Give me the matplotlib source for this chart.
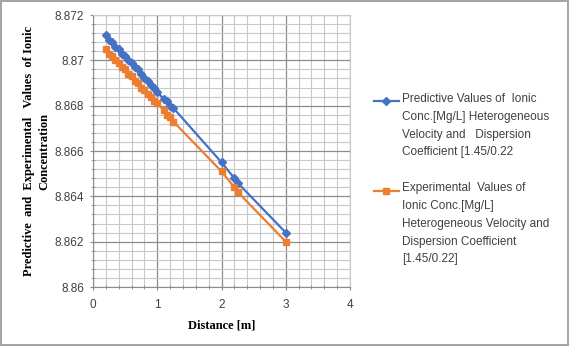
import numpy as np
import matplotlib as mpl
import matplotlib.pyplot as plt
from matplotlib.ticker import MultipleLocator, FuncFormatter
from matplotlib.legend_handler import HandlerLine2D

## Data
dist_pred = [0.2, 0.25, 0.3, 0.35, 0.4, 0.45, 0.5, 0.55, 0.6, 0.65, 0.7, 0.75,
             0.8, 0.85, 0.9, 0.95, 1.0, 1.1, 1.15, 1.2, 1.25, 2.0, 2.2, 2.25, 3.0]
conc_pred = [8.8711, 8.8709, 8.8708, 8.8706, 8.8705, 8.8703, 8.8702, 8.8700,
             8.8699, 8.8697, 8.8696, 8.8694, 8.8692, 8.8691, 8.8689, 8.8688,
             8.8686, 8.8683, 8.8682, 8.8680, 8.8679, 8.8655, 8.8648, 8.8646,
             8.8624]

dist_exp = [0.2, 0.25, 0.3, 0.35, 0.4, 0.45, 0.5, 0.55, 0.6, 0.65, 0.7, 0.75,
            0.8, 0.85, 0.9, 0.95, 1.0, 1.1, 1.15, 1.2, 1.25, 2.0, 2.2, 2.25, 3.0]
conc_exp = [8.8705, 8.8703, 8.8702, 8.8700, 8.8699, 8.8697, 8.8696, 8.8694,
            8.8693, 8.8691, 8.8690, 8.8688, 8.8687, 8.8685, 8.8684, 8.8682,
            8.8681, 8.8678, 8.8676, 8.8675, 8.8673, 8.8651, 8.8644, 8.8642,
            8.8620]

lab_pred = "Predictive Values of  Ionic\nConc.[Mg/L] Heterogeneous\nVelocity and   Dispersion\nCoefficient [1.45/0.22"
lab_exp = "Experimental  Values of\nIonic Conc.[Mg/L]\nHeterogeneous Velocity and\nDispersion Coefficient\n[1.45/0.22]"

blue = "#4472C4"
orange = "#ED7D31"


class TopHandler(HandlerLine2D):
    ## moves the legend line up to the first text line
    def __init__(self, shift, **kw):
        super().__init__(**kw)
        self.shift = shift

    def create_artists(self, legend, orig_handle, xdescent, ydescent,
                       width, height, fontsize, trans):
        arts = super().create_artists(legend, orig_handle, xdescent, ydescent,
                                      width, height, fontsize, trans)
        for a in arts:
            a.set_ydata(np.asarray(a.get_ydata()) + self.shift)
        return arts


W, H = 569, 346
fig = plt.figure(figsize=(W/100, H/100), dpi=100)
fig.patch.set_edgecolor("#A6A6A6")
fig.patch.set_linewidth(1.5)

x0, x1, y0, y1 = 93, 350, 15, 287
ax = fig.add_axes([x0/W, 1 - y1/H, (x1-x0)/W, (y1-y0)/H])

l1, = ax.plot(dist_pred, conc_pred, color=blue, lw=1.6, marker="D", ms=3.8,
              label=lab_pred, zorder=3)
l2, = ax.plot(dist_exp, conc_exp, color=orange, lw=1.6, marker="s", ms=4.8,
              label=lab_exp, zorder=3)

ax.set_xlim(0, 4)
ax.set_ylim(8.86, 8.872)
ax.xaxis.set_major_locator(MultipleLocator(1))
ax.xaxis.set_minor_locator(MultipleLocator(0.2))
ax.yaxis.set_major_locator(MultipleLocator(0.002))
ax.yaxis.set_minor_locator(MultipleLocator(0.0004))
ax.xaxis.set_major_formatter(FuncFormatter(lambda v, p: "%g" % round(v, 3)))
ax.yaxis.set_major_formatter(FuncFormatter(lambda v, p: "%g" % round(v, 3)))

ax.grid(which="major", color="#8C8C8C", lw=0.9)
ax.grid(which="minor", color="#C8C8C8", lw=0.8)
ax.set_axisbelow(True)
for s in ["top", "right"]:
    ax.spines[s].set_color("#C8C8C8")
for s in ["left", "bottom"]:
    ax.spines[s].set_color("#8C8C8C")

ax.tick_params(which="both", direction="inout", color="#8C8C8C",
               labelsize=8.5, labelcolor="#404040")
ax.tick_params(which="major", length=5)
ax.tick_params(which="minor", length=3)
for t in ax.get_xticklabels() + ax.get_yticklabels():
    t.set_fontfamily("Liberation Sans")
ax.tick_params(axis="y", pad=4)
ax.tick_params(axis="x", pad=6)

ax.set_xlabel("Distance [m]", fontfamily="Liberation Serif",
              fontweight="bold", fontsize=9, labelpad=6)
ax.set_ylabel("Predictive  and  Experimental   Values  of Ionic\nConcentration",
              fontfamily="Liberation Serif", fontweight="bold", fontsize=9,
              linespacing=1.35, labelpad=3)

leg = fig.legend(handles=[l1, l2], loc="upper left",
                 bbox_to_anchor=(368/W, 1 - 87/H),
                 frameon=False, prop={"family": "Liberation Sans", "size": 8.5},
                 handlelength=2.1, handletextpad=0.25, labelspacing=2.0,
                 borderpad=0,
                 handler_map={l1: TopHandler(18.0), l2: TopHandler(24.0)})
for t in leg.get_texts():
    t.set_color("#404040")
    t.set_linespacing(1.65)

fig.savefig("out.png", dpi=100)
